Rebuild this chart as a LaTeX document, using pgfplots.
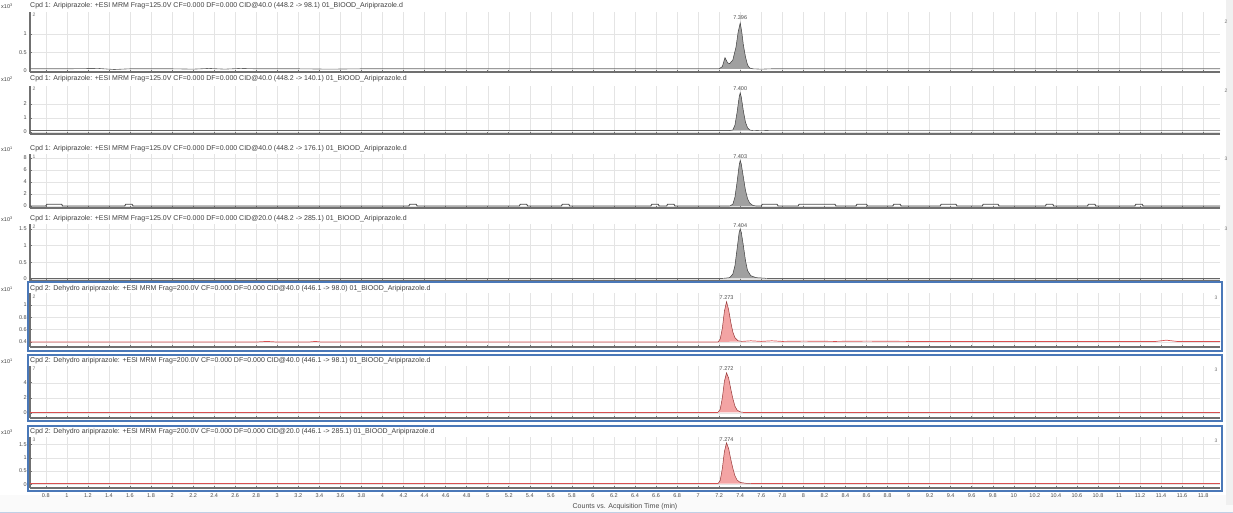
\documentclass[border=0pt]{standalone}
\usepackage{fontspec}
\setmainfont{Liberation Sans}
\usepackage{pgfplots}
\pgfplotsset{compat=1.18}
\definecolor{gridc}{HTML}{E4E4E4}
\definecolor{axc}{HTML}{707070}
\definecolor{grayfill}{HTML}{A0A0A0}
\definecolor{peakline}{HTML}{404040}
\definecolor{pinkfill}{HTML}{F3A4A4}
\definecolor{redline}{HTML}{D85050}
\definecolor{boxblue}{HTML}{4A78B8}
\pgfplotsset{
 panel/.style={
  scale only axis, width=1190pt, anchor=north west,
  xmin=0.65, xmax=11.96, clip mode=individual,
  axis x line*=bottom, axis y line*=left,
  axis line style={axc, line width=1.3pt},
  xtick={0.8,1,...,11.8},
  xticklabels={},
  grid=major, major grid style={gridc, line width=0.4pt},
  tick style={axc, line width=0.5pt}, major tick length=2pt,
  yticklabel style={font=\fontsize{5.5}{5.5}\selectfont, text=black!70, inner sep=1pt, xshift=-2pt},
  xticklabel style={font=\fontsize{5.5}{5.5}\selectfont, text=black!70, inner sep=1pt, text height=4pt, text depth=0pt, anchor=north},
  /pgf/number format/assume math mode=true,
 },
 grayp/.style={fill=grayfill, draw=peakline, line width=0.5pt},
 pinkp/.style={fill=pinkfill, draw=redline!70!black, line width=0.5pt},
 grayb/.style={draw=black!60, line width=0.6pt},
 blip/.style={draw=black!70, line width=0.9pt},
 redb/.style={draw=redline, line width=0.7pt},
}
\newcommand{\ttl}[2]{\node[anchor=west, font=\fontsize{7}{7}\selectfont, text=black!75, inner sep=0pt] at (30pt,-#1pt) {#2};}
\newcommand{\expo}[2]{\node[anchor=west, font=\fontsize{5.5}{5.5}\selectfont, text=black!75, inner sep=0pt] at (1pt,-#1pt) {x10\textsuperscript{#2}};}
\newcommand{\plab}[3]{\node[font=\fontsize{5.5}{5.5}\selectfont, text=black!70, inner sep=0pt] at (axis cs:#1,#2) {#3};}
\newcommand{\pane}[3]{\node[font=\fontsize{5}{5}\selectfont, text=black!55, inner sep=0pt] at (#1pt,-#2pt) {#3};}
\begin{document}
\begin{tikzpicture}
\path[use as bounding box, fill=white] (0,0) rectangle (1233pt,-513pt);
\fill[black!2] (0,-495pt) rectangle (1233pt,-513pt);
\draw[boxblue!35, line width=1pt] (0,-512pt) -- (1233pt,-512pt);
\fill[black!6] (1226pt,0) rectangle (1233pt,-505pt);

% ---------- Panel 1
\begin{axis}[panel, at={(30pt,-12pt)}, height=60pt, ymin=-0.027, ymax=1.595, ytick={0,0.5,1}]
\addplot[grayb] coordinates {(0.65,0.06)(1.0,0.06)(1.3,0.07)(1.45,0.04)(1.6,0.06)(2.0,0.06)(2.2,0.05)(2.35,0.07)(2.5,0.05)(2.65,0.07)(2.8,0.06)(3.2,0.06)(3.5,0.05)(3.8,0.06)(4.5,0.06)(5.5,0.06)(6.5,0.06)(7.2,0.06)};
\addplot[grayp] coordinates {(7.20,0.06)(7.23,0.12)(7.255,0.36)(7.28,0.22)(7.30,0.2)(7.33,0.3)(7.36,0.65)(7.38,1.05)(7.40,1.30)(7.415,1.05)(7.43,0.7)(7.45,0.38)(7.47,0.16)(7.49,0.08)(7.52,0.06)};
\addplot[grayb] coordinates {(7.52,0.06)(7.6,0.05)(7.7,0.06)(8.0,0.06)(9,0.06)(10,0.06)(11.96,0.06)};
\plab{7.40}{1.43}{7.396}
\end{axis}
\ttl{6}{Cpd 1: Aripiprazole: +ESI MRM Frag=125.0V CF=0.000 DF=0.000 CID@40.0 (448.2 -> 98.1) 01\_BIOOD\_Aripiprazole.d}
\expo{6}{3}
\pane{34}{15}{2}\pane{1226}{22}{2}

% ---------- Panel 2
\begin{axis}[panel, at={(30pt,-86pt)}, height=48pt, ymin=-0.14, ymax=3.29, ytick={0,1,2}]
\addplot[grayb] coordinates {(0.65,0.1)(3,0.1)(6,0.1)(7.30,0.1)};
\addplot[grayp] coordinates {(7.30,0.1)(7.33,0.15)(7.35,0.5)(7.37,1.4)(7.39,2.5)(7.40,2.8)(7.41,2.5)(7.43,1.5)(7.45,0.7)(7.47,0.3)(7.49,0.15)(7.52,0.1)};
\addplot[grayb] coordinates {(7.52,0.1)(7.6,0.12)(7.7,0.1)(9,0.1)(11.96,0.1)};
\plab{7.40}{3.07}{7.400}
\end{axis}
\ttl{79}{Cpd 1: Aripiprazole: +ESI MRM Frag=125.0V CF=0.000 DF=0.000 CID@40.0 (448.2 -> 140.1) 01\_BIOOD\_Aripiprazole.d}
\expo{79}{2}
\pane{34}{89}{2}\pane{1226}{91}{2}

% ---------- Panel 3
\begin{axis}[panel, at={(30pt,-154pt)}, height=54pt, ymin=-0.33, ymax=8.67, ytick={0,2,4,6,8}]
\addplot[blip] coordinates {(0.65,0)(0.80,0)(0.81,0.3)(0.95,0.3)(0.96,0)(1.55,0)(1.56,0.3)(1.62,0.3)(1.63,0)(4.25,0)(4.26,0.3)(4.32,0.3)(4.33,0)(5.3,0)(5.31,0.3)(5.37,0.3)(5.38,0)(5.7,0)(5.71,0.3)(5.77,0.3)(5.78,0)(6.55,0)(6.56,0.3)(6.62,0.3)(6.63,0)(6.7,0)(6.71,0.3)(6.77,0.3)(6.78,0)(7.30,0)};
\addplot[grayp] coordinates {(7.30,0)(7.33,0.3)(7.35,1.5)(7.37,4.0)(7.39,6.8)(7.40,7.6)(7.41,7.0)(7.43,4.8)(7.45,2.6)(7.47,1.2)(7.49,0.5)(7.52,0.1)(7.55,0)};
\addplot[blip] coordinates {(7.55,0)(7.60,0)(7.61,0.3)(7.75,0.3)(7.76,0)(7.95,0)(7.96,0.3)(8.3,0.3)(8.31,0)(8.5,0)(8.51,0.3)(8.6,0.3)(8.61,0)(8.85,0)(8.86,0.3)(8.92,0.3)(8.93,0)(9.3,0)(9.31,0.3)(9.45,0.3)(9.46,0)(9.7,0)(9.71,0.3)(9.85,0.3)(9.86,0)(10.3,0)(10.31,0.3)(10.37,0.3)(10.38,0)(10.7,0)(10.71,0.3)(10.77,0.3)(10.78,0)(11.15,0)(11.16,0.3)(11.22,0.3)(11.23,0)(11.96,0)};
\plab{7.40}{8.3}{7.403}
\end{axis}
\ttl{149}{Cpd 1: Aripiprazole: +ESI MRM Frag=125.0V CF=0.000 DF=0.000 CID@40.0 (448.2 -> 176.1) 01\_BIOOD\_Aripiprazole.d}
\expo{149}{1}
\pane{34}{157}{1}\pane{1226}{159}{3}

% ---------- Panel 4
\begin{axis}[panel, at={(30pt,-224pt)}, height=57pt, ymin=-0.06, ymax=1.65, ytick={0,0.5,1,1.5}]
\addplot[grayb] coordinates {(0.65,0.02)(3,0.02)(6,0.02)(7.24,0.02)};
\addplot[grayp] coordinates {(7.24,0.02)(7.30,0.04)(7.33,0.15)(7.35,0.4)(7.37,0.9)(7.39,1.4)(7.40,1.5)(7.41,1.4)(7.43,1.0)(7.45,0.55)(7.47,0.25)(7.50,0.1)(7.55,0.04)(7.65,0.02)};
\addplot[grayb] coordinates {(7.65,0.02)(9,0.02)(11.96,0.02)};
\plab{7.40}{1.61}{7.404}
\end{axis}
\ttl{219}{Cpd 1: Aripiprazole: +ESI MRM Frag=125.0V CF=0.000 DF=0.000 CID@20.0 (448.2 -> 285.1) 01\_BIOOD\_Aripiprazole.d}
\expo{219}{3}
\pane{34}{227}{2}\pane{1226}{229}{3}

% ---------- Panel 5
\begin{axis}[panel, at={(30pt,-293pt)}, height=54pt, ymin=0.32, ymax=1.19, ytick={0.4,0.6,0.8,1}]
\addplot[redb] coordinates {(0.65,0.40)(2.8,0.40)(2.9,0.41)(3.0,0.40)(3.3,0.40)(3.36,0.41)(3.42,0.40)(7.19,0.40)};
\addplot[pinkp] coordinates {(7.19,0.40)(7.21,0.45)(7.23,0.62)(7.25,0.90)(7.27,1.05)(7.29,0.92)(7.31,0.72)(7.33,0.56)(7.35,0.47)(7.38,0.42)(7.42,0.41)};
\addplot[redb] coordinates {(7.42,0.41)(7.5,0.42)(7.6,0.41)(7.7,0.42)(7.8,0.41)(8.0,0.415)(8.3,0.41)(8.6,0.415)(9.0,0.41)(9.5,0.41)(10,0.41)(10.5,0.41)(11.0,0.41)(11.35,0.41)(11.45,0.43)(11.55,0.41)(11.96,0.41)};
\plab{7.27}{1.115}{7.273}
\end{axis}
\ttl{289}{Cpd 2: Dehydro aripiprazole: +ESI MRM Frag=200.0V CF=0.000 DF=0.000 CID@40.0 (446.1 -> 98.0) 01\_BIOOD\_Aripiprazole.d}
\expo{289}{1}
\draw[boxblue, line width=1.6pt] (28pt,-282pt) rectangle (1222pt,-351pt);
\pane{34}{297}{2}\pane{1216}{298}{3}

% ---------- Panel 6
\begin{axis}[panel, at={(30pt,-366pt)}, height=52pt, ymin=-0.65, ymax=6.2, ytick={0,2,4}]
\addplot[redb] coordinates {(0.65,0.1)(4,0.1)(7.19,0.1)};
\addplot[pinkp] coordinates {(7.19,0.1)(7.21,0.5)(7.23,2.0)(7.25,4.2)(7.27,5.3)(7.29,4.6)(7.31,3.2)(7.33,1.9)(7.35,0.9)(7.37,0.4)(7.40,0.15)(7.43,0.1)};
\addplot[redb] coordinates {(7.43,0.1)(9,0.1)(11.96,0.1)};
\plab{7.27}{5.8}{7.272}
\end{axis}
\ttl{361}{Cpd 2: Dehydro aripiprazole: +ESI MRM Frag=200.0V CF=0.000 DF=0.000 CID@40.0 (446.1 -> 98.1) 01\_BIOOD\_Aripiprazole.d}
\expo{361}{1}
\draw[boxblue, line width=1.6pt] (28pt,-355pt) rectangle (1222pt,-421pt);
\pane{34}{369}{7}\pane{1216}{370}{3}

% ---------- Panel 7
\begin{axis}[panel, at={(30pt,-437pt)}, height=51pt, ymin=-0.14, ymax=1.79, ytick={0,0.5,1,1.5},
  xticklabel style={yshift=-4pt},
  xticklabels={0.8,1,1.2,1.4,1.6,1.8,2,2.2,2.4,2.6,2.8,3,3.2,3.4,3.6,3.8,4,4.2,4.4,4.6,4.8,5,5.2,5.4,5.6,5.8,6,6.2,6.4,6.6,6.8,7,7.2,7.4,7.6,7.8,8,8.2,8.4,8.6,8.8,9,9.2,9.4,9.6,9.8,10,10.2,10.4,10.6,10.8,11,11.2,11.4,11.6,11.8}]
\addplot[redb] coordinates {(0.65,0.03)(4,0.03)(7.19,0.03)};
\addplot[pinkp] coordinates {(7.19,0.03)(7.21,0.15)(7.23,0.6)(7.25,1.25)(7.27,1.57)(7.29,1.35)(7.31,0.95)(7.33,0.6)(7.35,0.32)(7.37,0.16)(7.40,0.07)(7.45,0.04)(7.50,0.03)};
\addplot[redb] coordinates {(7.50,0.03)(9,0.03)(11.96,0.03)};
\plab{7.27}{1.71}{7.274}
\end{axis}
\ttl{432}{Cpd 2: Dehydro aripiprazole: +ESI MRM Frag=200.0V CF=0.000 DF=0.000 CID@20.0 (446.1 -> 285.1) 01\_BIOOD\_Aripiprazole.d}
\expo{432}{3}
\draw[boxblue, line width=1.6pt] (28pt,-426pt) rectangle (1222pt,-491pt);
\pane{34}{440}{3}\pane{1216}{441}{3}

\node[font=\fontsize{7}{7}\selectfont, text=black!70, inner sep=0pt] at (625pt,-507pt) {Counts vs. Acquisition Time (min)};
\end{tikzpicture}
\end{document}
